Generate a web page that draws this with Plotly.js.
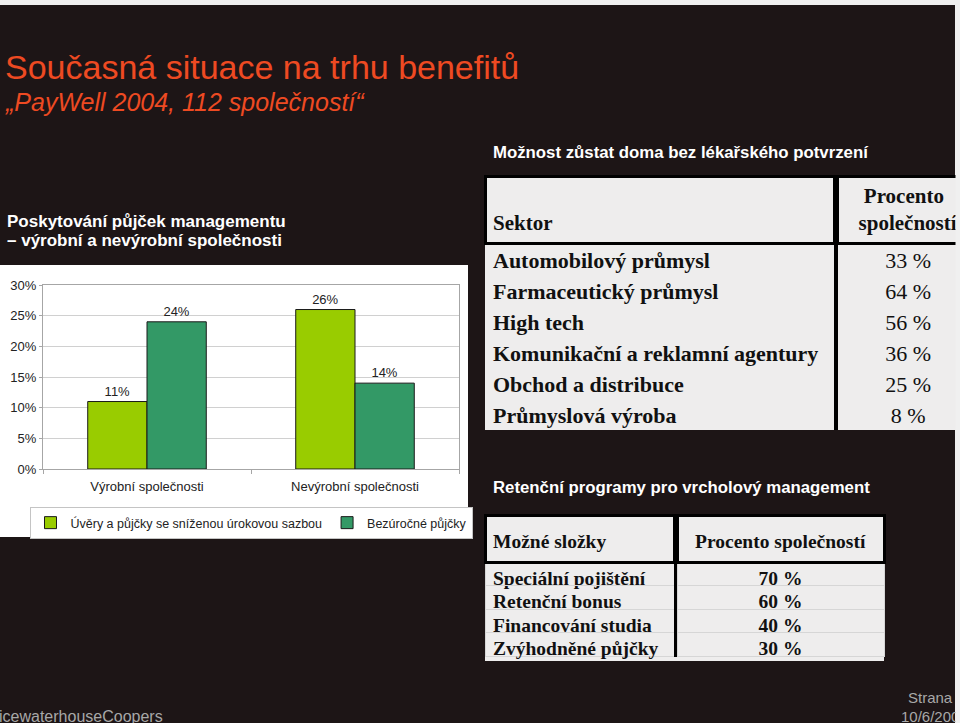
<!DOCTYPE html>
<html><head><meta charset="utf-8">
<script src="https://cdn.plot.ly/plotly-3.0.1.min.js"></script>
<style>html,body{margin:0;padding:0;overflow:hidden;background:#f0f0f0}#chart{width:980px;height:723px}</style>
</head><body><div id="chart"></div>
<script>
// ---- data ----
const categories = ['Výrobní společnosti', 'Nevýrobní společnosti'];
const seriesNames = ['Úvěry a půjčky se sníženou úrokovou sazbou', 'Bezúročné půjčky'];
const reducedRateLoans = [0.11, 0.26];
const interestFreeLoans = [0.24, 0.14];

const sickLeaveHeader = ['Sektor', 'Procento', 'společností'];
const sectors = ['Automobilový průmysl', 'Farmaceutický průmysl', 'High tech',
  'Komunikační a reklamní agentury', 'Obchod a distribuce', 'Průmyslová výroba'];
const sectorShares = ['33 %', '64 %', '56 %', '36 %', '25 %', '8 %'];

const retentionHeader = ['Možné složky', 'Procento společností'];
const retentionItems = ['Speciální pojištění', 'Retenční bonus', 'Financování studia', 'Zvýhodněné půjčky'];
const retentionShares = ['70 %', '60 %', '40 %', '30 %'];

// ---- layout helpers ----
const W = 980, H = 723;
const px = x => x / W;
const py = y => 1 - y / H;
const nb = s => s.replace(/ /g, '\u00a0');

const DARK = '#1d1516', RED = '#ee4a22', TF = '#eeeded';
const SANS = 'Liberation Sans, Arial, sans-serif';
const SERIF = 'Liberation Serif, Times New Roman, serif';

const T1 = {top: 176, bottom: 440, left: 485, right: 980};
const T2 = {top: 515, bottom: 690, left: 485, right: 884};

const barTraces = [
  {type: 'bar', name: seriesNames[0], x: categories, y: reducedRateLoans,
   marker: {color: '#99cc00', line: {color: '#1a1a1a', width: 1}}},
  {type: 'bar', name: seriesNames[1], x: categories, y: interestFreeLoans,
   marker: {color: '#339966', line: {color: '#1a1a1a', width: 1}}}
].map(t => Object.assign(t, {
  texttemplate: '%{y:.0%}', textposition: 'outside', cliponaxis: false,
  textfont: {family: SANS, size: 13, color: '#222'}, hoverinfo: 'skip'
}));

const blank1 = sectors.map(() => '');
const table1 = {
  type: 'table',
  domain: {x: [px(T1.left), px(T1.right)], y: [py(T1.bottom), py(T1.top)]},
  columnwidth: [350, 3, 142],
  header: {
    values: ['\u00a0<br><b>' + sickLeaveHeader[0] + '</b>', '',
             '<b>\u00a0' + sickLeaveHeader[1] + '</b><br><b>' + sickLeaveHeader[2] + '</b>'],
    align: ['left', 'center', 'center'],
    fill: {color: [TF, '#000', TF]},
    line: {color: '#000', width: 3},
    font: {family: SERIF, size: 21, color: '#111'},
    height: 63
  },
  cells: {
    values: [sectors.map(nb), blank1, sectorShares.map(nb)],
    align: ['left', 'center', 'center'],
    fill: {color: ['rgba(0,0,0,0)', '#000', 'rgba(0,0,0,0)']},
    line: {color: ['rgba(0,0,0,0)', '#000', 'rgba(0,0,0,0)'], width: [0, 1, 0]},
    font: {family: SERIF, size: 22, color: '#111', weight: ['bold', 'normal', 'normal']},
    height: 31
  }
};

// an extra transparent row keeps the descenders of the last row from being clipped
const items2 = retentionItems.map(nb).concat(['']);
const shares2 = retentionShares.map(nb).concat(['']);
const blank2 = items2.map(() => '');
const rowLine2 = items2.map((_, i) => i < retentionItems.length ? '#d6d6d6' : 'rgba(0,0,0,0)');
const rowWidth2 = items2.map((_, i) => i < retentionItems.length ? 1 : 0);
const rowFill2 = items2.map(() => 'rgba(0,0,0,0)');
const table2 = {
  type: 'table',
  domain: {x: [px(T2.left), px(T2.right)], y: [py(T2.bottom), py(T2.top)]},
  columnwidth: [189, 3, 207],
  header: {
    values: ['<br><b>' + retentionHeader[0] + '</b>', '', '<br><b>' + retentionHeader[1] + '</b>'],
    align: ['left', 'center', 'center'],
    fill: {color: [TF, '#000', TF]},
    line: {color: '#000', width: 3},
    font: {family: SERIF, size: 19.5, color: '#111'},
    height: 47
  },
  cells: {
    values: [items2, blank2, shares2],
    align: ['left', 'center', 'center'],
    fill: {color: [rowFill2, items2.map((_, i) => i < retentionItems.length ? '#000' : 'rgba(0,0,0,0)'), rowFill2]},
    line: {color: [rowLine2, items2.map((_, i) => i < retentionItems.length ? '#000' : 'rgba(0,0,0,0)'), rowLine2],
           width: [rowWidth2, rowWidth2, rowWidth2]},
    font: {family: SERIF, size: 19.5, color: '#111', weight: 'bold'},
    height: 23.5
  }
};

const shapes = [
  {type: 'rect', xref: 'paper', yref: 'paper', layer: 'below', x0: 0, x1: px(955), y0: py(723), y1: py(5),
   fillcolor: DARK, line: {width: 0}},
  {type: 'rect', xref: 'paper', yref: 'paper', layer: 'below', x0: 0, x1: px(468), y0: py(537), y1: py(265),
   fillcolor: '#ffffff', line: {width: 0}},
  {type: 'rect', xref: 'paper', yref: 'paper', layer: 'below', x0: px(T1.left), x1: 1, y0: py(430), y1: py(T1.top),
   fillcolor: TF, line: {width: 0}},
  {type: 'rect', xref: 'paper', yref: 'paper', layer: 'below', x0: px(T2.left), x1: px(T2.right), y0: py(661), y1: py(T2.top),
   fillcolor: TF, line: {width: 0}}
];

const ann = (text, x, y, xanchor, font) => ({text, x: px(x), y: py(y), xref: 'paper', yref: 'paper',
  xanchor, yanchor: 'middle', showarrow: false, font});

const annotations = [
  ann('Současná situace na trhu benefitů', 3, 67, 'left', {family: SANS, size: 34, color: RED}),
  ann('<i>„PayWell 2004, 112 společností“</i>', 3, 102, 'left', {family: SANS, size: 25, color: RED}),
  ann('<b>Poskytování půjček managementu</b>', 5, 221, 'left', {family: SANS, size: 17, color: '#fff'}),
  ann('<b>– výrobní a nevýrobní společnosti</b>', 5, 241, 'left', {family: SANS, size: 17, color: '#fff'}),
  ann('<b>Možnost zůstat doma bez lékařského potvrzení</b>', 491, 152, 'left', {family: SANS, size: 16.8, color: '#fff'}),
  ann('<b>Retenční programy pro vrcholový management</b>', 491, 487, 'left', {family: SANS, size: 16.8, color: '#fff'}),
  ann('PricewaterhouseCoopers', 165, 716, 'right', {family: SANS, size: 16, color: '#a8a8a8'}),
  ann('Strana', 955, 697, 'right', {family: SANS, size: 15, color: '#a8a8a8'}),
  ann('10/6/2005', 899, 716, 'left', {family: SANS, size: 15, color: '#a8a8a8'}),
  {text: ' ', x: px(955), y: 0.5, xref: 'paper', yref: 'paper', xanchor: 'left', yanchor: 'middle',
   showarrow: false, width: 40, height: 800, bgcolor: '#f0f0f0', borderpad: 0}
];

const layout = {
  width: W, height: H, autosize: false,
  margin: {l: 0, r: 0, t: 0, b: 0, pad: 0},
  paper_bgcolor: '#f0f0f0', plot_bgcolor: '#ffffff',
  font: {family: SANS, color: '#222'},
  barmode: 'group', bargap: 0.43, bargroupgap: 0,
  hovermode: false,
  xaxis: {domain: [px(43), px(459)], anchor: 'y', showline: true, linecolor: '#a6a6a6', linewidth: 1, mirror: true,
          ticks: 'outside', tickson: 'boundaries', ticklen: 4, tickcolor: '#a6a6a6', ticklabelstandoff: 5,
          tickfont: {family: SANS, size: 13, color: '#222'}, showgrid: false, fixedrange: true},
  yaxis: {domain: [py(469), py(285)], anchor: 'x', range: [0, 0.3], dtick: 0.05, tickformat: '.0%',
          showline: true, linecolor: '#a6a6a6', mirror: true, ticks: 'outside', ticklen: 3, tickcolor: '#a6a6a6',
          gridcolor: '#d0d0d0', zeroline: false, tickfont: {family: SANS, size: 13, color: '#222'}, fixedrange: true},
  showlegend: true,
  legend: {orientation: 'h', x: px(251), xanchor: 'center', y: py(507), yanchor: 'top',
           bgcolor: '#ffffff', bordercolor: '#c4c4c4', borderwidth: 1,
           font: {family: SANS, size: 12.5, color: '#222'}, itemwidth: 30, tracegroupgap: 0},
  shapes, annotations
};

Plotly.newPlot('chart', [...barTraces, table1, table2], layout, {staticPlot: true, displayModeBar: false});
</script></body></html>
